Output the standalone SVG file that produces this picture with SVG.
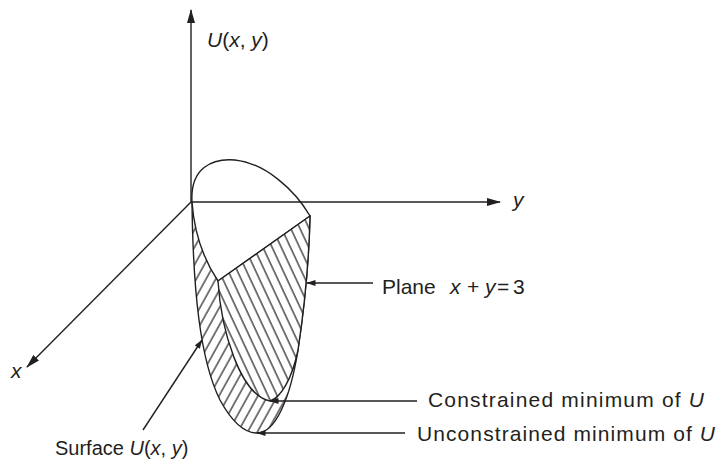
<svg xmlns="http://www.w3.org/2000/svg" width="719" height="460" viewBox="0 0 719 460">
<style>
.ln{stroke:#231f20;stroke-width:1.4;fill:none}
.shape{stroke:#231f20;stroke-width:1.4}
.t{font-family:"Liberation Sans",Arial,sans-serif;font-size:21px;fill:#231f20}
.i{font-style:italic}
</style>
<defs>
<pattern id="hL" width="8.5" height="10" patternUnits="userSpaceOnUse" patternTransform="rotate(29)">
<line x1="1" y1="-1" x2="1" y2="11" stroke="#231f20" stroke-width="1.2"/>
</pattern>
<pattern id="hR" width="8.3" height="10" patternUnits="userSpaceOnUse" patternTransform="rotate(-25)">
<line x1="1" y1="-1" x2="1" y2="11" stroke="#231f20" stroke-width="1.2"/>
</pattern>
<marker id="ax" viewBox="0 0 14 8" refX="13" refY="4" markerWidth="14" markerHeight="8" markerUnits="userSpaceOnUse" orient="auto">
<path d="M0,0 L14,4 L0,8 Z" fill="#231f20"/>
</marker>
<marker id="sm" viewBox="0 0 9 6" refX="8.5" refY="3" markerWidth="9" markerHeight="6" markerUnits="userSpaceOnUse" orient="auto">
<path d="M0,0 L9,3 L0,6 Z" fill="#231f20"/>
</marker>
</defs>

<g id="surface">
<path class="shape" fill="url(#hL)" d="M192,202 C193,290 200,360 220,400 C232,422 245,433 257,433 C275,433 290,400 298,350 C304,310 309,260 310,216 Z"/>
</g>
<g id="cap">
<path class="shape" fill="#fff" d="M192,202 C190,168 212,158 235,160 C265,163 295,190 310,216 L218,281 C212,272 195,245 192,202 Z"/>
</g>
<g id="plane">
<path fill="#fff" d="M310,216 L218,281 C221,330 240,395 270,401 C280,398 292,380 298,350 C304,310 309,260 310,216 Z"/>
<path class="shape" fill="url(#hR)" d="M310,216 L218,281 C221,330 240,395 270,401 C280,398 292,380 298,350 C304,310 309,260 310,216 Z"/>
</g>

<g id="connectors">
<line class="ln" x1="191" y1="202" x2="191" y2="10" marker-end="url(#ax)"/>
<line class="ln" x1="191" y1="202" x2="500" y2="202" marker-end="url(#ax)"/>
<line class="ln" x1="191" y1="202" x2="27" y2="367" marker-end="url(#ax)"/>
<line class="ln" x1="373" y1="283" x2="307" y2="283" marker-end="url(#sm)"/>
<line class="ln" x1="417" y1="401" x2="270" y2="401" marker-end="url(#sm)"/>
<line class="ln" x1="405" y1="433" x2="257" y2="433" marker-end="url(#sm)"/>
<line class="ln" x1="143" y1="430" x2="202" y2="340" marker-end="url(#sm)"/>
</g>

<g id="labels">
<text class="t" x="207" y="47"><tspan class="i">U</tspan>(<tspan class="i">x</tspan>, <tspan class="i">y</tspan>)</text>
<text class="t i" x="513" y="207">y</text>
<text class="t i" x="11" y="378">x</text>
<text class="t" y="294"><tspan x="382">Plane</tspan><tspan class="i" x="450">x</tspan><tspan x="467">+</tspan><tspan class="i" x="485">y</tspan><tspan x="497">=</tspan><tspan x="513">3</tspan></text>
<text class="t" x="428" y="407" textLength="276">Constrained minimum of <tspan class="i">U</tspan></text>
<text class="t" x="417" y="441" textLength="298">Unconstrained minimum of <tspan class="i">U</tspan></text>
<text class="t" x="55" y="455" style="font-size:20px">Surface <tspan class="i">U</tspan>(<tspan class="i">x</tspan>, <tspan class="i">y</tspan>)</text>
</g>
</svg>
